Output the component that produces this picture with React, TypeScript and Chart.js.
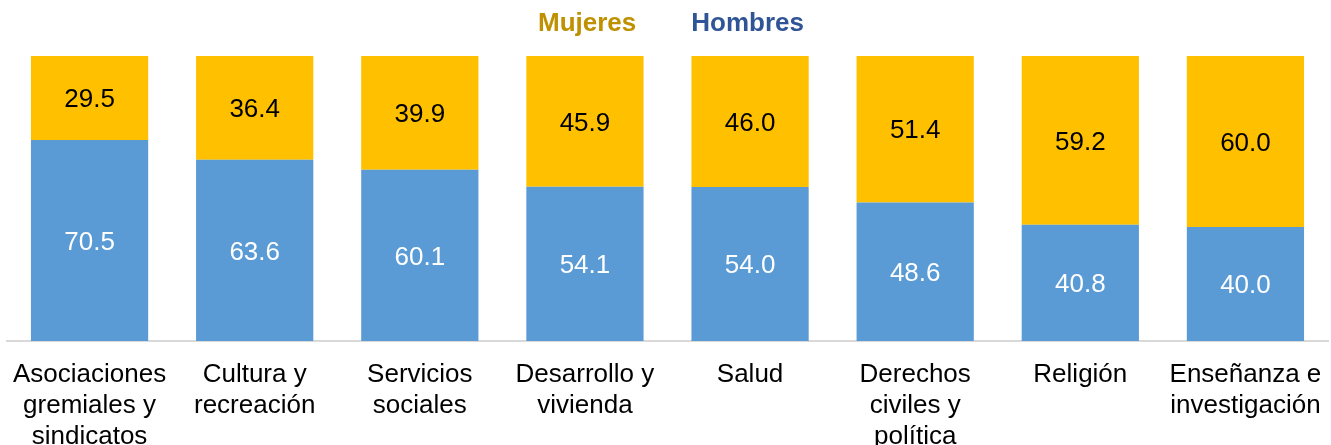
import React, { useEffect, useRef } from "react";
import { Chart, registerables } from "chart.js";

Chart.register(...registerables);

const categories: string[][] = [
  ["Asociaciones", "gremiales y", "sindicatos"],
  ["Cultura y", "recreación"],
  ["Servicios", "sociales"],
  ["Desarrollo y", "vivienda"],
  ["Salud"],
  ["Derechos", "civiles y", "política"],
  ["Religión"],
  ["Enseñanza e", "investigación"],
];
const hombres = [70.5, 63.6, 60.1, 54.1, 54.0, 48.6, 40.8, 40.0];
const mujeres = [29.5, 36.4, 39.9, 45.9, 46.0, 51.4, 59.2, 60.0];

const FONT = "'Liberation Sans', Arial, sans-serif";

const valueLabels = {
  id: "valueLabels",
  afterDatasetsDraw(chart: any) {
    const ctx = chart.ctx;
    ctx.save();
    ctx.font = `26px ${FONT}`;
    ctx.textAlign = "center";
    ctx.textBaseline = "middle";
    chart.data.datasets.forEach((ds: any, di: number) => {
      const meta = chart.getDatasetMeta(di);
      meta.data.forEach((el: any, i: number) => {
        const v = ds.data[i];
        const y = (el.y + el.base) / 2 + 2;
        ctx.fillStyle = ds.labelColor;
        ctx.fillText(v.toFixed(1), el.x, y);
      });
    });
    ctx.restore();
  },
};

const textLegend = {
  id: "textLegend",
  afterDraw(chart: any) {
    const ctx = chart.ctx;
    ctx.save();
    ctx.font = `bold 26px ${FONT}`;
    ctx.textBaseline = "middle";
    ctx.textAlign = "left";
    const items = [chart.data.datasets[1], chart.data.datasets[0]];
    const gap = 55;
    const widths = items.map((d: any) => ctx.measureText(d.label).width);
    const total = widths[0] + widths[1] + gap;
    let x = 671 - total / 2;
    items.forEach((d: any, i: number) => {
      ctx.fillStyle = d.legendColor;
      ctx.fillText(d.label, x, 24);
      x += widths[i] + gap;
    });
    ctx.restore();
  },
};

export default function App() {
  const ref = useRef<HTMLCanvasElement>(null);
  useEffect(() => {
    const chart = new Chart(ref.current!, {
      type: "bar",
      data: {
        labels: categories,
        datasets: [
          {
            label: "Hombres",
            data: hombres,
            backgroundColor: "#5B9BD5",
            categoryPercentage: 1,
            barPercentage: 0.71,
            // @ts-ignore
            labelColor: "#FFFFFF",
            legendColor: "#2F5597",
          },
          {
            label: "Mujeres",
            data: mujeres,
            backgroundColor: "#FFC000",
            categoryPercentage: 1,
            barPercentage: 0.71,
            // @ts-ignore
            labelColor: "#000000",
            legendColor: "#BF9000",
          },
        ] as any,
      },
      options: {
        animation: false,
        responsive: false,
        maintainAspectRatio: false,
        layout: { padding: { top: 56, left: 7, right: 3, bottom: 0 } },
        plugins: { legend: { display: false }, tooltip: { enabled: false } },
        scales: {
          x: {
            stacked: true,
            grid: { display: false, drawTicks: false },
            border: { display: true, color: "#D9D9D9", width: 2 },
            ticks: {
              color: "#000000",
              font: { family: FONT, size: 26, lineHeight: 1.2 },
              padding: 18,
              maxRotation: 0,
              autoSkip: false,
            },
            afterFit(scale: any) {
              scale.height = 104;
              scale.paddingLeft = 0;
              scale.paddingRight = 0;
            },
          },
          y: {
            stacked: true,
            display: false,
            min: 0,
            max: 100,
          },
        },
      },
      plugins: [valueLabels, textLegend],
    });
    return () => chart.destroy();
  }, []);
  return (
    <div style={{ position: "fixed", left: 0, top: 0, width: 1331, height: 445, background: "#fff" }}>
      <canvas ref={ref} width={1331} height={445} style={{ width: 1331, height: 445 }} />
    </div>
  );
}
